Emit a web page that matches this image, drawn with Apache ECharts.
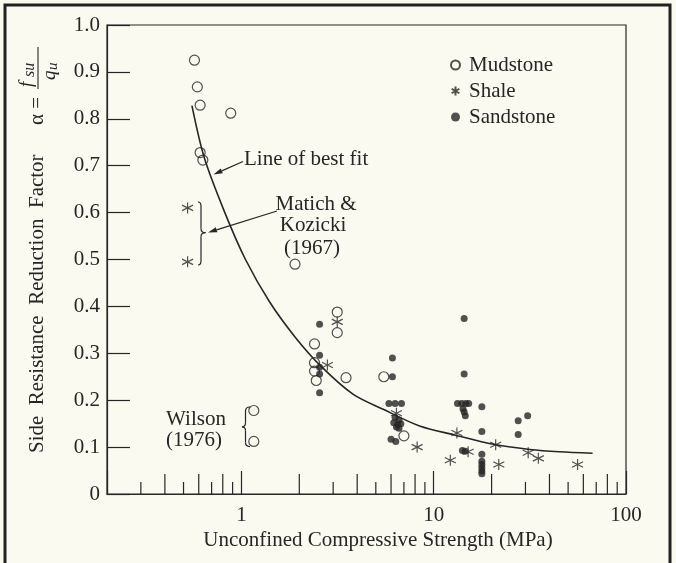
<!DOCTYPE html>
<html>
<head>
<meta charset="utf-8">
<title>Side resistance reduction factor</title>
<script src="https://cdn.jsdelivr.net/npm/echarts@6/dist/echarts.min.js"></script>
<style>
  html, body { margin: 0; padding: 0; background: #fbfaf1; }
  #chart { width: 676px; height: 563px; }
</style>
</head>
<body>
<div id="chart"></div>
<script>
// values: [UCS (MPa), alpha]
var mudstone = [
  [0.57, 0.925], [0.59, 0.868], [0.61, 0.829], [0.88, 0.812], [0.61, 0.728], [0.63, 0.712],
  [1.9, 0.49], [1.16, 0.178], [1.16, 0.112],
  [2.4, 0.32], [2.4, 0.28], [2.4, 0.262], [2.45, 0.242], [3.15, 0.388], [3.15, 0.344], [3.5, 0.248],
  [5.5, 0.25], [7.0, 0.124]
];
var shale = [
  [0.525, 0.61], [0.525, 0.495], [3.15, 0.367], [2.8, 0.275],
  [6.4, 0.172], [8.2, 0.1], [12.2, 0.072], [13.2, 0.13], [15.1, 0.09],
  [21, 0.105], [21.8, 0.063], [31, 0.088], [35, 0.076], [56, 0.063]
];
var sandstone = [
  [2.55, 0.362], [2.55, 0.296], [2.55, 0.27], [2.55, 0.256], [2.55, 0.216],
  [6.1, 0.29], [6.1, 0.25], [5.85, 0.193], [6.3, 0.193], [6.8, 0.193],
  [6.3, 0.163], [6.6, 0.158], [6.2, 0.152], [6.5, 0.148], [6.75, 0.15], [6.4, 0.143], [6.6, 0.14],
  [6.0, 0.117], [6.35, 0.112],
  [14.4, 0.374], [14.4, 0.256], [13.3, 0.193], [14.0, 0.193], [14.7, 0.193], [15.2, 0.193],
  [14.2, 0.182], [14.4, 0.175], [14.6, 0.167], [14.1, 0.093], [14.6, 0.091],
  [17.8, 0.186], [17.8, 0.133], [17.8, 0.085], [17.8, 0.07], [17.8, 0.063], [17.8, 0.056], [17.8, 0.049], [17.8, 0.043],
  [27.5, 0.156], [27.5, 0.127], [30.8, 0.167]
];
var bestFit = [
  [0.553, 0.828], [0.64, 0.718], [0.82, 0.6], [1.05, 0.5],
  [1.4, 0.41], [1.9, 0.335], [2.6, 0.272], [3.8, 0.213],
  [5.5, 0.18], [8.45, 0.145], [12.8, 0.126], [20.4, 0.106], [31.6, 0.095],
  [45, 0.09], [67, 0.087]
];
var xLabels = [1, 10, 100];
var evenTicks = [0.4, 0.6, 0.8, 2, 4, 6, 8, 20, 40, 60, 80];
var oddTicks = [0.3, 0.5, 0.7, 0.9, 3, 5, 7, 9, 30, 50, 70, 90];

var ink = '#262626';
var serif = "'Liberation Serif', 'Times New Roman', serif";

function tickSeries(vals, len) {
  return {
    type: 'custom',
    silent: true,
    data: vals.map(function (v) { return [v, 0]; }),
    renderItem: function (params, api) {
      var p = api.coord([api.value(0), 0]);
      return {
        type: 'line',
        shape: { x1: p[0], y1: p[1], x2: p[0], y2: p[1] - len },
        style: { stroke: ink, lineWidth: 1.2 }
      };
    }
  };
}

function arrow(x1, y1, x2, y2) {
  var a = Math.atan2(y2 - y1, x2 - x1), L = 9, W = 2.6;
  var bx = x2 - L * Math.cos(a), by = y2 - L * Math.sin(a);
  var nx = -Math.sin(a) * W, ny = Math.cos(a) * W;
  return [
    { type: 'line', shape: { x1: x1, y1: y1, x2: bx, y2: by }, style: { stroke: ink, lineWidth: 1.2 } },
    { type: 'polygon', shape: { points: [[x2, y2], [bx + nx, by + ny], [bx - nx, by - ny]] }, style: { fill: ink } }
  ];
}

// curly brace: spine at x, ends bend to x + endDx, tip at x + tipDx
function brace(x, yTop, yBot, yMid, endDx, tipDx) {
  var st = { fill: 'none', stroke: ink, lineWidth: 1.2 };
  var r = 4;
  return [
    { type: 'bezierCurve', shape: { x1: x + endDx, y1: yTop, cpx1: x, cpy1: yTop, x2: x, y2: yTop + r }, style: st },
    { type: 'line', shape: { x1: x, y1: yTop + r, x2: x, y2: yMid - r }, style: st },
    { type: 'bezierCurve', shape: { x1: x, y1: yMid - r, cpx1: x, cpy1: yMid, x2: x + tipDx, y2: yMid }, style: st },
    { type: 'bezierCurve', shape: { x1: x + tipDx, y1: yMid, cpx1: x, cpy1: yMid, x2: x, y2: yMid + r }, style: st },
    { type: 'line', shape: { x1: x, y1: yMid + r, x2: x, y2: yBot - r }, style: st },
    { type: 'bezierCurve', shape: { x1: x, y1: yBot - r, cpx1: x, cpy1: yBot, x2: x + endDx, y2: yBot }, style: st }
  ];
}

function txt(x, y, s, size, align) {
  return {
    type: 'text', x: x, y: y,
    style: { text: s, fill: ink, font: size + 'px ' + serif, align: align || 'left', verticalAlign: 'middle' }
  };
}

var chart = echarts.init(document.getElementById('chart'));

var graphics = [
  { type: 'rect', shape: { x: 5, y: 5, width: 665, height: 640 }, style: { fill: 'none', stroke: '#222', lineWidth: 3 } },
  // y axis title
  { type: 'text', x: 37, y: 453, rotation: Math.PI / 2,
    style: { text: 'Side  Resistance  Reduction  Factor', fill: ink, font: '21px ' + serif, align: 'left', verticalAlign: 'middle' } },
  { type: 'text', x: 37, y: 111, rotation: Math.PI / 2,
    style: { text: '\u03b1 =', fill: ink, font: '21px ' + serif, align: 'center', verticalAlign: 'middle' } },
  { type: 'group', x: 38, y: 68, rotation: Math.PI / 2, children: [
    { type: 'line', shape: { x1: -21, y1: 0, x2: 21, y2: 0 }, style: { stroke: ink, lineWidth: 1.1 } },
    { type: 'text', x: -19, y: -2, style: { text: 'f', fill: ink, font: 'italic 19px ' + serif, verticalAlign: 'bottom' } },
    { type: 'text', x: -9, y: 0, style: { text: 'su', fill: ink, font: 'italic 16px ' + serif, verticalAlign: 'bottom' } },
    { type: 'text', x: -12, y: 2, style: { text: 'q', fill: ink, font: 'italic 19px ' + serif, verticalAlign: 'top' } },
    { type: 'text', x: -2, y: 8, style: { text: 'u', fill: ink, font: 'italic 15px ' + serif, verticalAlign: 'top' } }
  ] },
  txt(378, 540, 'Unconfined Compressive Strength (MPa)', 21, 'center'),
  txt(244, 159, 'Line of best fit', 21, 'left'),
  txt(316, 204, 'Matich &', 21, 'center'),
  txt(313, 225, 'Kozicki', 21, 'center'),
  txt(312, 248, '(1967)', 21, 'center'),
  txt(196, 419, 'Wilson', 21, 'center'),
  txt(194, 440, '(1976)', 21, 'center')
].concat(
  brace(201, 202, 265, 232.7, -3, 4.5),
  brace(245.5, 407, 446.6, 426.8, 4.5, -3.5),
  arrow(243, 161.5, 213.5, 174.5),
  arrow(277, 211, 208, 232.5)
);

var option = {
  backgroundColor: '#fbfaf1',
  animation: false,
  textStyle: { fontFamily: serif, color: ink },
  grid: { left: 107, right: 50, top: 25, bottom: 69, show: true, borderColor: ink, borderWidth: 1.2, backgroundColor: 'transparent' },
  legend: {
    orient: 'vertical', left: 450, top: 52, padding: 0, itemGap: 0,
    itemWidth: 9, itemHeight: 9, selectedMode: false,
    textStyle: { fontFamily: serif, fontSize: 21, color: ink, lineHeight: 26, padding: [0, 0, 0, 4] },
    data: ['Mudstone', 'Shale', 'Sandstone']
  },
  xAxis: {
    type: 'log', logBase: 10, min: 0.2, max: 100,
    axisLine: { show: true, lineStyle: { color: ink, width: 1.2 } },
    axisTick: { show: true, inside: true, length: 23, lineStyle: { color: ink, width: 1.2 } },
    splitLine: { show: false },
    axisLabel: {
      color: ink, fontSize: 21, fontFamily: serif, margin: 11,
      formatter: function (v) {
        for (var i = 0; i < xLabels.length; i++) {
          if (Math.abs(v - xLabels[i]) < 1e-6 * xLabels[i]) return String(xLabels[i]);
        }
        return '';
      }
    }
  },
  yAxis: {
    type: 'value', min: 0, max: 1, interval: 0.1,
    axisLine: { show: true, lineStyle: { color: ink, width: 1.2 } },
    axisTick: { show: true, inside: true, length: 23, lineStyle: { color: ink, width: 1.2 } },
    splitLine: { show: false },
    axisLabel: {
      color: ink, fontSize: 21, fontFamily: serif, margin: 7,
      formatter: function (v) { return v === 0 ? '0' : v.toFixed(1); }
    }
  },
  graphic: graphics,
  series: [
    tickSeries(evenTicks, 20),
    tickSeries(oddTicks, 12),
    {
      type: 'line', name: 'best fit', data: bestFit, smooth: 0.3,
      showSymbol: false, symbol: 'none', silent: true,
      lineStyle: { color: ink, width: 1.6 }
    },
    {
      type: 'scatter', name: 'Sandstone', data: sandstone, symbol: 'circle', symbolSize: 7,
      itemStyle: { color: ink }
    },
    {
      type: 'scatter', name: 'Mudstone', data: mudstone, symbol: 'circle', symbolSize: 10,
      itemStyle: { color: 'rgba(0,0,0,0)', borderColor: ink, borderWidth: 1.2 }
    },
    {
      type: 'scatter', name: 'Shale', data: shale,
      symbol: 'path://M5,0 L5,10 M0.67,2.5 L9.33,7.5 M0.67,7.5 L9.33,2.5', symbolSize: 11,
      itemStyle: { color: 'rgba(0,0,0,0)', borderColor: ink, borderWidth: 1.2 }
    }
  ]
};

chart.setOption(option);
</script>
</body>
</html>
